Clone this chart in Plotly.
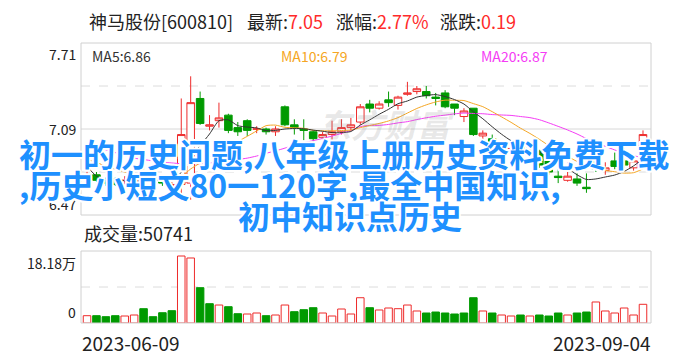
import pandas as pd
import plotly.graph_objects as go

# ---------------- data ----------------
holidays = ["2023-06-22", "2023-06-23"]
dates = [d.strftime("%Y-%m-%d") for d in pd.bdate_range("2023-06-09", "2023-09-04")
         if d.strftime("%Y-%m-%d") not in holidays]

open_p = [6.73, 6.76, 6.72, 6.73, 6.72, 6.71, 6.76, 6.74, 6.72, 6.67,
          6.69, 6.70, 7.31, 7.11, 7.15, 7.19, 7.10, 7.15, 7.09, 7.09,
          7.07, 7.25, 7.12, 7.09, 7.07, 7.03, 7.05, 7.07, 7.10, 7.14,
          7.27, 7.24, 7.30, 7.26, 7.34, 7.36, 7.36, 7.32, 7.35, 7.27,
          7.18, 7.24, 7.04, 7.02, 6.94, 6.95, 6.96, 6.90, 6.93, 6.86,
          6.75, 6.72, 6.73, 6.67, 6.90, 6.79, 6.86, 6.86, 6.81, 6.89]
high_p = [6.79, 6.78, 6.74, 6.74, 6.75, 6.76, 6.86, 6.75, 6.73, 6.79,
          7.31, 7.47, 7.36, 7.19, 7.28, 7.20, 7.14, 7.16, 7.11, 7.10,
          7.11, 7.26, 7.16, 7.16, 7.08, 7.07, 7.15, 7.16, 7.17, 7.27,
          7.30, 7.29, 7.36, 7.33, 7.43, 7.40, 7.40, 7.35, 7.37, 7.27,
          7.24, 7.24, 7.08, 7.05, 7.00, 7.00, 6.98, 6.95, 6.94, 6.89,
          6.80, 6.85, 6.77, 6.77, 6.94, 6.85, 6.92, 6.95, 6.88, 7.08]
low_p = [6.71, 6.71, 6.68, 6.68, 6.69, 6.70, 6.71, 6.70, 6.68, 6.61,
         6.62, 6.58, 7.12, 7.08, 7.10, 7.06, 7.04, 7.04, 7.06, 7.05,
         7.04, 7.11, 7.05, 7.01, 7.00, 6.97, 7.01, 7.05, 7.08, 7.12,
         7.21, 7.23, 7.25, 7.23, 7.33, 7.34, 7.31, 7.26, 7.24, 7.19,
         7.14, 7.04, 7.00, 6.94, 6.82, 6.93, 6.89, 6.88, 6.81, 6.76,
         6.70, 6.71, 6.68, 6.63, 6.78, 6.76, 6.80, 6.81, 6.79, 6.86]
close_p = [6.76, 6.72, 6.70, 6.69, 6.72, 6.74, 6.73, 6.72, 6.70, 6.69,
           7.05, 7.28, 7.13, 7.12, 7.17, 7.08, 7.07, 7.08, 7.09, 7.07,
           7.09, 7.12, 7.10, 7.08, 7.02, 7.05, 7.07, 7.10, 7.12, 7.25,
           7.24, 7.27, 7.28, 7.32, 7.35, 7.38, 7.33, 7.31, 7.25, 7.24,
           7.22, 7.05, 7.06, 6.96, 6.97, 6.99, 6.91, 6.93, 6.83, 6.78,
           6.74, 6.75, 6.70, 6.66, 6.80, 6.81, 6.82, 6.83, 6.86, 7.05]

ma5 = [6.82, 6.75, 6.72, 6.71, 6.718, 6.714, 6.716, 6.720, 6.722, 6.716,
       6.778, 6.888, 6.970, 7.054, 7.150, 7.156, 7.114, 7.104, 7.098, 7.078,
       7.080, 7.090, 7.094, 7.092, 7.082, 7.074, 7.064, 7.064, 7.072, 7.118,
       7.156, 7.196, 7.232, 7.272, 7.292, 7.320, 7.332, 7.338, 7.324, 7.302,
       7.270, 7.214, 7.164, 7.106, 7.052, 7.006, 6.978, 6.952, 6.926, 6.888,
       6.838, 6.806, 6.760, 6.726, 6.730, 6.744, 6.758, 6.784, 6.824, 6.874]
ma10 = [6.87, 6.85, 6.82, 6.80, 6.78, 6.765, 6.75, 6.735, 6.725, 6.717,
        6.746, 6.802, 6.845, 6.888, 6.933, 6.967, 7.001, 7.037, 7.076, 7.114,
        7.118, 7.102, 7.099, 7.095, 7.080, 7.077, 7.077, 7.079, 7.082, 7.100,
        7.115, 7.130, 7.148, 7.172, 7.205, 7.238, 7.264, 7.285, 7.298, 7.297,
        7.295, 7.273, 7.251, 7.215, 7.177, 7.138, 7.096, 7.058, 7.016, 6.970,
        6.922, 6.892, 6.856, 6.826, 6.809, 6.791, 6.782, 6.772, 6.775, 6.802]
ma20 = [6.98, 6.96, 6.94, 6.92, 6.90, 6.88, 6.87, 6.86, 6.85, 6.845,
        6.84, 6.84, 6.84, 6.845, 6.85, 6.86, 6.87, 6.88, 6.895, 6.915,
        6.932, 6.952, 6.972, 6.991, 7.006, 7.022, 7.039, 7.058, 7.079, 7.107,
        7.116, 7.116, 7.123, 7.134, 7.143, 7.158, 7.171, 7.182, 7.190, 7.199,
        7.205, 7.202, 7.200, 7.194, 7.191, 7.188, 7.180, 7.172, 7.157, 7.134,
        7.109, 7.083, 7.054, 7.021, 6.993, 6.965, 6.939, 6.915, 6.896, 6.886]

volume = [19800, 19800, 17100, 19800, 19000, 21700, 38800, 17100, 27900, 33400,
          181800, 176400, 95800, 52400, 48800, 44200, 25200, 24400, 27100, 19800,
          21700, 48800, 30700, 36100, 41500, 27100, 19000, 38000, 24400, 68600,
          41500, 35300, 40700, 38800, 48800, 32600, 27100, 29800, 27100, 24400,
          27100, 68600, 32600, 27100, 21700, 19000, 21700, 19000, 21700, 19000,
          27100, 21700, 27100, 29800, 57000, 32600, 27100, 40700, 21700, 50741]
vol_up = [1, 0, 0, 0, 1, 1, 0, 0, 0, 0,
          1, 1, 0, 0, 1, 0, 0, 1, 1, 0,
          1, 1, 0, 0, 0, 1, 1, 1, 1, 1,
          0, 1, 1, 1, 1, 1, 0, 0, 0, 0,
          0, 0, 1, 0, 1, 1, 0, 1, 0, 0,
          0, 1, 0, 0, 1, 1, 1, 1, 1, 1]

stock_name = "神马股份[600810]"
latest, pct_change, change = "7.05", "2.77%", "0.19"
ma_labels = ["MA5:6.86", "MA10:6.79", "MA20:6.87"]
vol_label = "成交量:50741"
price_ticks = [7.71, 7.09, 6.47]
vol_tick_top = "18.18万"
overlay_lines = ["初一的历史问题,八年级上册历史资料免费下载",
                 ",历史小短文80一120字,最全中国知识,",
                 "初中知识点历史"]
watermark = "东方财富"

# ---------------- style ----------------
RED = "#ee2b2b"
GREEN = "#009a00"
C_MA5 = "#333333"
C_MA10 = "#f5a623"
C_MA20 = "#f53cf5"
FONT = "Noto Sans CJK SC"
W, H = 688, 360
L, R, T, B = 81, 37, 43, 37
PW, PH = W - L - R, H - T - B
price_top, price_bot = 43, 215
vol_top, vol_bot = 251, 323


def px(xp):
    return (xp - L) / PW


def py(yp):
    return (H - B - yp) / PH


fig = go.Figure()

fig.add_trace(go.Candlestick(
    x=dates, open=open_p, high=high_p, low=low_p, close=close_p,
    increasing=dict(line=dict(color=RED, width=1), fillcolor="white"),
    decreasing=dict(line=dict(color=GREEN, width=1), fillcolor=GREEN),
    whiskerwidth=0, showlegend=False, hoverinfo="skip"))

for vals, col in [(ma20, C_MA20), (ma10, C_MA10), (ma5, C_MA5)]:
    fig.add_trace(go.Scatter(x=dates, y=vals, mode="lines",
                             line=dict(color=col, width=1, shape="spline", smoothing=0.6),
                             showlegend=False, hoverinfo="skip"))

fig.add_trace(go.Bar(
    x=dates, y=volume, yaxis="y2", width=0.8,
    marker=dict(color=["white" if u else GREEN for u in vol_up],
                line=dict(color=[RED if u else GREEN for u in vol_up], width=1)),
    showlegend=False, hoverinfo="skip"))

pmin, pmax = min(price_ticks), max(price_ticks)
vmax = max(volume) * 72 / 67

shapes = []
# price grid
for k, dash, col in [(1, "dash", "#dcdcdc"), (2, "solid", "#d8d8d8"), (3, "dash", "#dcdcdc")]:
    yv = pmin + (pmax - pmin) * k / 4
    shapes.append(dict(type="line", xref="paper", yref="y", x0=0, x1=1, y0=yv, y1=yv,
                       line=dict(color=col, width=1, dash=dash), layer="below"))
shapes.append(dict(type="line", xref="paper", yref="y2", x0=0, x1=1, y0=vmax / 2, y1=vmax / 2,
                   line=dict(color="#dcdcdc", width=1, dash="dash"), layer="below"))
# frames
shapes.append(dict(type="rect", xref="paper", yref="paper", x0=0, x1=1,
                   y0=py(price_bot), y1=py(price_top), line=dict(color="#d0d0d0", width=1)))
shapes.append(dict(type="rect", xref="paper", yref="paper", x0=0, x1=1,
                   y0=py(vol_bot), y1=py(vol_top), line=dict(color="#d0d0d0", width=1)))

ann = []


def text(t, x, y, size, color="#222", xanchor="left", yanchor="middle", **kw):
    ann.append(dict(text=t, x=px(x), y=py(y), xref="paper", yref="paper",
                    xanchor=xanchor, yanchor=yanchor, showarrow=False, borderpad=0,
                    font=dict(family=FONT, size=size, color=color, **kw)))


red_span = "<span style='color:#ff2a2a'>{}</span>"
text(stock_name, 88, 21, 18)
text("最新:" + red_span.format(latest), 246, 21, 18)
text("涨幅:" + red_span.format(pct_change), 335, 21, 18)
text("涨跌:" + red_span.format(change), 439, 21, 18)

text(ma_labels[0], 91, 56, 14, C_MA5)
text(ma_labels[1], 280, 56, 14, C_MA10)
text(ma_labels[2], 480, 56, 14, C_MA20)

text("%.2f" % price_ticks[0], 77, price_top, 14, xanchor="right", yanchor="top")
text("%.2f" % price_ticks[1], 77, (price_top + price_bot) / 2, 14, xanchor="right")
text("%.2f" % price_ticks[2], 77, price_bot, 14, xanchor="right", yanchor="bottom")

text(vol_label, 83, 233, 18)
text(vol_tick_top, 77, vol_top + 1, 14, xanchor="right", yanchor="top")
text("0", 77, vol_bot, 14, xanchor="right", yanchor="bottom")

text(dates[0], 81, 342, 19)
text(dates[-1], 652, 342, 19, xanchor="right")

# watermark
text(watermark, 317, 124, 33, "rgba(150,150,150,0.22)", weight="bold", style="italic")

# overlay title
halo = ("2px 0 0 #fff, -2px 0 0 #fff, 0 2px 0 #fff, 0 -2px 0 #fff, "
        "1.5px 1.5px 0 #fff, -1.5px -1.5px 0 #fff, 1.5px -1.5px 0 #fff, -1.5px 1.5px 0 #fff")
for t, x, y in zip(overlay_lines, [18, 18, 237], [153, 184, 215]):
    text(t, x, y, 32, "#1e90ff", shadow=halo, weight="bold")

fig.update_layout(
    width=W, height=H, margin=dict(l=L, r=R, t=T, b=B, pad=0),
    paper_bgcolor="white", plot_bgcolor="white",
    boxgap=0.2, boxgroupgap=0, barmode="overlay",
    xaxis=dict(type="category", range=[-0.64, 59.85], showticklabels=False, showgrid=False,
               zeroline=False, showline=False, rangeslider=dict(visible=False), fixedrange=True),
    yaxis=dict(domain=[py(price_bot), py(price_top)], range=[pmin, pmax], showticklabels=False,
               showgrid=False, zeroline=False, fixedrange=True),
    yaxis2=dict(domain=[py(vol_bot), py(vol_top)], range=[0, vmax], showticklabels=False,
                showgrid=False, zeroline=False, anchor="x", fixedrange=True),
    shapes=shapes, annotations=ann, showlegend=False,
    font=dict(family=FONT),
)

fig.write_html("out.html")
